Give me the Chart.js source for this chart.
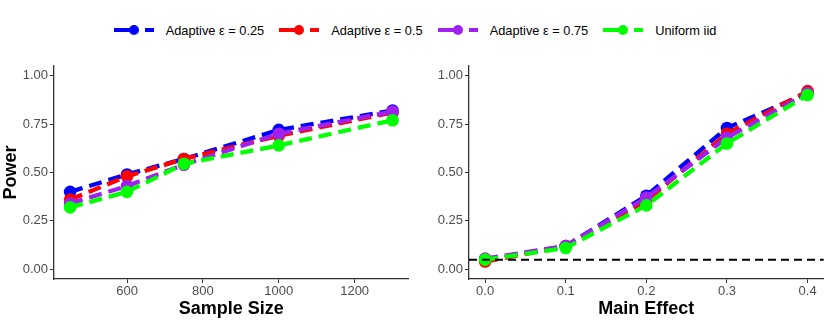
<!DOCTYPE html>
<html>
<head>
<meta charset="utf-8">
<script src="https://cdn.jsdelivr.net/npm/chart.js@4/dist/chart.umd.min.js"></script>
<style>
  body { margin: 0; width: 830px; height: 320px; background: #fff; position: relative; overflow: hidden;
         font-family: "Liberation Sans", Arial, sans-serif; }
  #legend { position: absolute; left: 0; top: 20px; width: 830px; height: 20px; display: flex;
            justify-content: center; align-items: center; font-size: 12.8px; color: #000; }
  .item { display: flex; align-items: center; margin-right: 15px; }
  .item:last-child { margin-right: 0; }
  .key { position: relative; width: 40px; height: 12px; margin-right: 12px; }
  .key .seg { position: absolute; left: 0; top: 4px; width: 24px; height: 4px; }
  .key .dot { position: absolute; left: 15px; top: 1px; width: 10px; height: 10px; border-radius: 50%; }
  .key .dash { position: absolute; left: 31px; top: 4px; width: 9px; height: 4px; }
  .panel { position: absolute; top: 50px; }
</style>
</head>
<body>
<div id="legend"></div>
<canvas id="sizeChart" class="panel" style="left:0px" width="415" height="270"></canvas>
<canvas id="effectChart" class="panel" style="left:415px" width="415" height="270"></canvas>
<script>
// series
const seriesNames = ["Adaptive ε = 0.25", "Adaptive ε = 0.5", "Adaptive ε = 0.75", "Uniform iid"];
const seriesColors = ["#0000FF", "#FF0000", "#A020F0", "#00FF00"];

// left panel: power vs sample size
const sampleSizes = [450, 600, 750, 1000, 1300];
const sizePower025 = [0.40, 0.49, 0.57, 0.72, 0.82];
const sizePower05 = [0.36, 0.48, 0.57, 0.69, 0.81];
const sizePower075 = [0.34, 0.43, 0.54, 0.70, 0.815];
const sizePowerUnif = [0.32, 0.40, 0.545, 0.64, 0.77];

// right panel: power vs main effect
const mainEffects = [0.0, 0.1, 0.2, 0.3, 0.4];
const effPower025 = [0.05, 0.12, 0.38, 0.73, 0.91];
const effPower05 = [0.04, 0.12, 0.355, 0.70, 0.92];
const effPower075 = [0.055, 0.12, 0.37, 0.68, 0.91];
const effPowerUnif = [0.05, 0.11, 0.33, 0.65, 0.90];
const nominalLevel = 0.05;

// ticks
const powerTicks = [0, 0.25, 0.5, 0.75, 1];
const sizeTicks = [600, 800, 1000, 1200];
const effectTicks = [0, 0.1, 0.2, 0.3, 0.4];

// legend (html)
var legend = document.getElementById("legend");
seriesNames.forEach(function (name, i) {
  var c = seriesColors[i];
  var it = document.createElement("div");
  it.className = "item";
  it.innerHTML = '<span class="key"><span class="seg" style="background:' + c + '"></span>' +
    '<span class="dot" style="background:' + c + '"></span>' +
    '<span class="dash" style="background:' + c + '"></span></span><span>' + name + '</span>';
  legend.appendChild(it);
});

var tickFont = { family: "'Liberation Sans', Arial, sans-serif", size: 13 };
var titleFont = { family: "'Liberation Sans', Arial, sans-serif", size: 18, weight: "bold" };

function build_ds(xs, ys_list) {
  return ys_list.map(function (ys, i) {
    return {
      label: seriesNames[i],
      data: xs.map(function (x, k) { return { x: x, y: ys[k] }; }),
      borderColor: seriesColors[i],
      backgroundColor: seriesColors[i],
      borderWidth: 4.3,
      borderDash: [13, 7],
      pointRadius: 6.3,
      pointBorderWidth: 0,
      pointBackgroundColor: seriesColors[i],
      tension: 0,
      order: 3 - i,
    };
  });
}

var hlinePlugin = {
  id: "hline",
  afterDatasetsDraw: function (chart, args, opts) {
    if (opts.value === undefined) return;
    var ctx = chart.ctx, a = chart.chartArea;
    var y = chart.scales.y.getPixelForValue(opts.value);
    ctx.save();
    ctx.strokeStyle = "#000";
    ctx.lineWidth = 2;
    ctx.setLineDash([8, 5]);
    ctx.beginPath();
    ctx.moveTo(a.left, y);
    ctx.lineTo(a.right, y);
    ctx.stroke();
    ctx.restore();
  },
};

function make_chart(id, datasets, xOpts, yTitle, hval) {
  return new Chart(document.getElementById(id), {
    type: "line",
    data: { datasets: datasets },
    plugins: [hlinePlugin],
    options: {
      responsive: false,
      animation: false,
      layout: { padding: { top: 16, right: 6, left: 0, bottom: 0 } },
      plugins: { legend: { display: false }, tooltip: { enabled: false }, hline: { value: hval } },
      scales: {
        x: {
          type: "linear",
          min: xOpts.min, max: xOpts.max,
          afterBuildTicks: function (s) { s.ticks = xOpts.ticks.map(function (v) { return { value: v }; }); },
          afterFit: function (s) { s.height = 41; },
          ticks: { font: tickFont, color: "#4D4D4D", padding: 1, maxRotation: 0, callback: xOpts.fmt },
          grid: { drawOnChartArea: false, drawTicks: true, tickLength: 4, color: "#333" },
          border: { display: true, color: "#333", width: 1.3 },
          title: { display: true, text: xOpts.title, font: titleFont, color: "#000", padding: { top: 0, bottom: 0 } },
        },
        y: {
          min: -0.05, max: 1.05,
          afterBuildTicks: function (s) { s.ticks = powerTicks.map(function (v) { return { value: v }; }); },
          afterFit: function (s) { s.width = 54; },
          ticks: { font: tickFont, color: "#4D4D4D", padding: 2, callback: function (v) { return v.toFixed(2); } },
          grid: { drawOnChartArea: false, drawTicks: true, tickLength: 4, color: "#333" },
          border: { display: true, color: "#333", width: 1.3 },
          title: { display: !!yTitle, text: yTitle, font: titleFont, color: "#000", padding: { top: 0, bottom: 0 } },
        },
      },
    },
  });
}

make_chart("sizeChart",
  build_ds(sampleSizes, [sizePower025, sizePower05, sizePower075, sizePowerUnif]),
  { min: 407.5, max: 1342.5, ticks: sizeTicks, title: "Sample Size", fmt: function (v) { return String(v); } },
  "Power");

make_chart("effectChart",
  build_ds(mainEffects, [effPower025, effPower05, effPower075, effPowerUnif]),
  { min: -0.02, max: 0.42, ticks: effectTicks, title: "Main Effect", fmt: function (v) { return v.toFixed(1); } },
  "", nominalLevel);
</script>
</body>
</html>
